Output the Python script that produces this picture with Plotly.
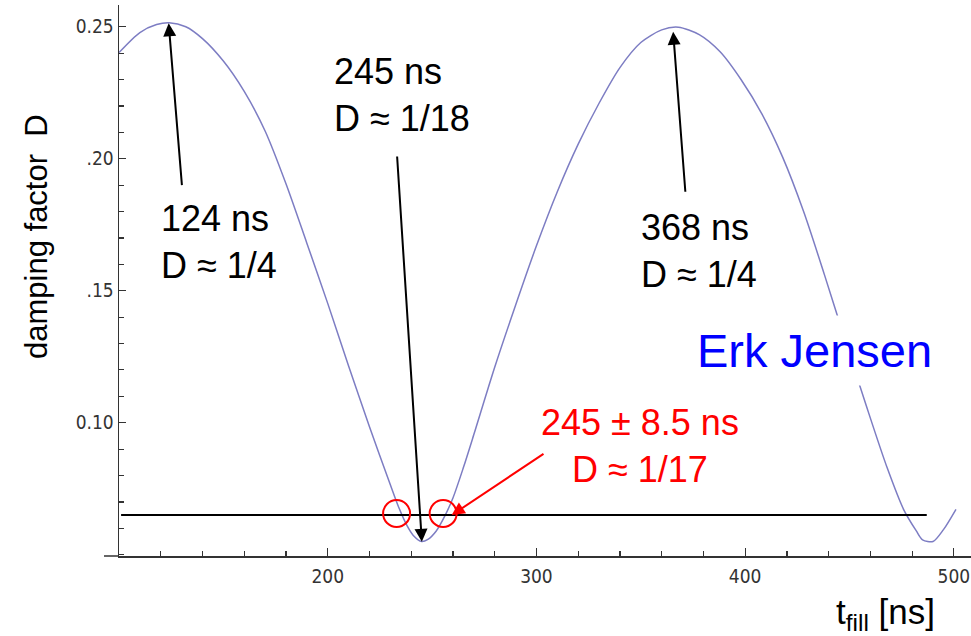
import plotly.graph_objects as go

# ---- data ----
t_fill = [100, 110, 118, 124, 132, 140, 150, 160, 170, 180, 190, 200, 210, 220, 230,
          234, 238, 241, 245, 248, 252, 256, 260, 265, 270, 280, 290, 300, 310, 320,
          330, 340, 350, 360, 368, 378, 388, 398, 408, 418, 428, 438, 448, 458, 468,
          476, 482, 485, 490, 495, 501]
damping = [0.2402, 0.2478, 0.2508, 0.2515, 0.2500, 0.2455, 0.2370, 0.2255, 0.2105, 0.1905,
           0.1680, 0.1452, 0.1215, 0.0985, 0.0765, 0.0680, 0.0610, 0.0573, 0.0550, 0.0558,
           0.0590, 0.0645, 0.0715, 0.0830, 0.0955, 0.1210, 0.1445, 0.1670, 0.1875, 0.2055,
           0.2210, 0.2345, 0.2440, 0.2488, 0.2498, 0.2470, 0.2405, 0.2300, 0.2170, 0.2005,
           0.1800, 0.1560, 0.1310, 0.1065, 0.0830, 0.0670, 0.0590, 0.0556, 0.0550, 0.0595,
           0.0672]

threshold_t = [101, 487]
threshold_D = [0.065, 0.065]

crossing_t = [233.0, 255.3]
crossing_D = [0.0656, 0.0656]

y_tickvals = [0.10, 0.15, 0.20, 0.25]
y_ticktext = ["0.10", ".15", ".20", "0.25"]
x_tickvals = [200, 300, 400, 500]
x_ticktext = ["200", "300", "400", "500"]

# arrows: head and tail positions
arrow_head_t = [123.8, 245.1, 365.5, 259.4]
arrow_head_D = [0.2513, 0.0549, 0.2481, 0.0650]
arrow_tail_t = [130.2, 233.2, 371.4, 304.1]
arrow_tail_D = [0.1894, 0.2014, 0.1869, 0.0886]
arrow_colors = ["black", "black", "black", "red"]

LABEL_FONT = "Liberation Sans, Arial, Helvetica, sans-serif"
TICK_FONT = "DejaVu Sans Condensed, Liberation Sans Narrow, Arial Narrow, sans-serif"

fig = go.Figure()

fig.add_trace(go.Scatter(x=t_fill, y=damping, mode="lines",
                         line=dict(color="rgb(125,125,195)", width=1.5,
                                   shape="spline", smoothing=0.8),
                         hoverinfo="skip", showlegend=False))
fig.add_trace(go.Scatter(x=threshold_t, y=threshold_D, mode="lines",
                         line=dict(color="black", width=2),
                         hoverinfo="skip", showlegend=False))
fig.add_trace(go.Scatter(x=crossing_t, y=crossing_D, mode="markers",
                         marker=dict(symbol="circle-open", size=27,
                                     line=dict(color="red", width=2), color="red"),
                         hoverinfo="skip", showlegend=False))

annotations = []
for ht, hd, tt, td, c in zip(arrow_head_t, arrow_head_D, arrow_tail_t, arrow_tail_D, arrow_colors):
    annotations.append(dict(x=ht, y=hd, ax=tt, ay=td, xref="x", yref="y",
                            axref="x", ayref="y", text="", showarrow=True,
                            arrowhead=2, arrowsize=1.3, arrowwidth=2, arrowcolor=c))

txt_font = dict(family=LABEL_FONT, size=36, color="black")
annotations += [
    dict(x=119.0, y=0.1683, xref="x", yref="y", text="124 ns<br>D ≈ 1/4",
         showarrow=False, xanchor="left", yanchor="middle", align="left", font=txt_font),
    dict(x=202.0, y=0.2243, xref="x", yref="y", text="245 ns<br>D ≈ 1/18",
         showarrow=False, xanchor="left", yanchor="middle", align="left", font=txt_font),
    dict(x=349.2, y=0.1650, xref="x", yref="y", text="368 ns<br>D ≈ 1/4",
         showarrow=False, xanchor="left", yanchor="middle", align="left", font=txt_font),
    dict(x=349.6, y=0.0912, xref="x", yref="y", text="245 ± 8.5 ns<br>D ≈ 1/17",
         showarrow=False, xanchor="center", yanchor="middle", align="center",
         font=dict(family=LABEL_FONT, size=36, color="red")),
    dict(x=433.3, y=0.1275, xref="x", yref="y", text="Erk Jensen",
         showarrow=False, xanchor="center", yanchor="middle", bgcolor="white",
         borderpad=8, font=dict(family=LABEL_FONT, size=47, color="#0000ff")),
    dict(x=-0.0962, y=0.579, xref="paper", yref="paper", text="damping factor\u00a0\u00a0D",
         showarrow=False, textangle=-90, xanchor="center", yanchor="middle",
         font=dict(family=LABEL_FONT, size=31, color="black")),
    dict(x=0.960, y=-0.105, xref="paper", yref="paper", text="t<sub>fill</sub> [ns]",
         showarrow=False, xanchor="right", yanchor="middle",
         font=dict(family=LABEL_FONT, size=35, color="black")),
]

fig.update_layout(
    width=971, height=636,
    margin=dict(l=119, r=0, t=5, b=80),
    paper_bgcolor="white", plot_bgcolor="white",
    annotations=annotations,
    shapes=[dict(type="line", xref="paper", yref="paper", x0=-0.0176, x1=0, y0=0, y1=0,
                 line=dict(color="#333", width=1.5))],
    xaxis=dict(range=[100, 508.2], showgrid=False, zeroline=False,
               showline=True, linecolor="#333", linewidth=1.5,
               tickvals=x_tickvals, ticktext=x_ticktext,
               ticks="inside", ticklen=8, tickwidth=1.2, tickcolor="#333",
               ticklabelstandoff=3, ticklabeloverflow="allow",
               minor=dict(dtick=20, tick0=100, ticks="inside", ticklen=5, tickwidth=1.2,
                          tickcolor="#333", showgrid=False),
               tickfont=dict(family=TICK_FONT, size=19, color="#333")),
    yaxis=dict(range=[0.04951, 0.25822], showgrid=False, zeroline=False,
               showline=True, linecolor="#333", linewidth=1.5,
               tickvals=y_tickvals, ticktext=y_ticktext,
               ticks="inside", ticklen=7, tickwidth=1.2, tickcolor="#333",
               minor=dict(dtick=0.01, tick0=0.0, ticks="inside", ticklen=5, tickwidth=1.2,
                          tickcolor="#333", showgrid=False),
               tickfont=dict(family=TICK_FONT, size=19, color="#333")),
)

# remove the browser's default page margin so the figure fills the window exactly
fig.write_html("out.html",
               config={"displayModeBar": False, "staticPlot": True},
               post_script="document.body.style.margin='0px';document.body.style.overflow='hidden';")
